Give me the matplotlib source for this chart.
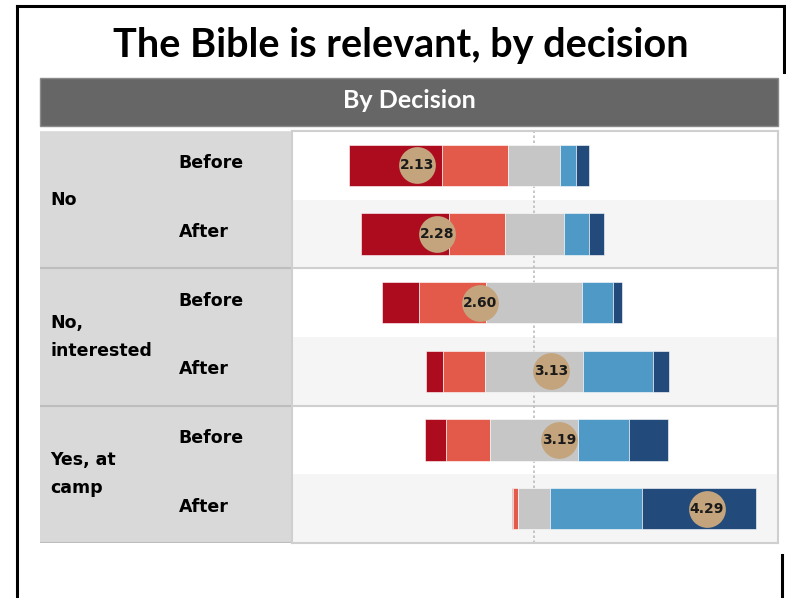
import numpy as np
import matplotlib
matplotlib.use("Agg")
import matplotlib.pyplot as plt
from matplotlib.patches import Rectangle
from matplotlib.lines import Line2D

# --- data ---
groups = ["No", "No,\ninterested", "Yes, at\ncamp"]
phases = ["Before", "After"]
levels = ["Strongly disagree", "Disagree", "Neutral", "Agree", "Strongly agree"]
strongly_disagree = [38.8, 36.4, 15.3, 7.0, 8.4, 0.7]
disagree = [27.3, 22.9, 28.0, 17.4, 18.3, 1.8]
neutral = [21.1, 24.4, 39.4, 40.2, 36.4, 13.5]
agree = [6.9, 10.6, 12.8, 28.9, 21.2, 38.0]
strongly_agree = [5.4, 6.1, 3.8, 6.7, 16.0, 47.1]
means = [2.13, 2.28, 2.60, 3.13, 3.19, 4.29]

colors = ["#ad0c1f", "#e45a4a", "#c6c6c6", "#4f99c6", "#224b7c"]

W, H = 786, 598


def fx(px):
    return px / W


def fy(py):
    return 1 - py / H


def main():
    fig = plt.figure(figsize=(W / 100, H / 100), dpi=100)
    fig.patch.set_facecolor("white")

    # outer black frame (partial, as in the slide)
    for (x0, y0, x1, y1) in [(17, 6, 785, 6), (17, 6, 17, 598),
                             (784, 6, 784, 72), (782, 555, 782, 598)]:
        fig.add_artist(Line2D([fx(x0), fx(x1)], [fy(y0), fy(y1)],
                              color="black", lw=2.2))

    fig.text(fx(401), fy(45), "The Bible is relevant, by decision",
             ha="center", va="center", fontsize=28.5, fontweight="bold",
             family="Lato", color="black")

    # header bar
    fig.add_artist(Rectangle((fx(40), fy(126)), fx(778) - fx(40), fy(78) - fy(126),
                             transform=fig.transFigure, facecolor="#666666",
                             edgecolor="#8a8a8a", lw=1))
    fig.text(fx(409), fy(101), "By Decision", ha="center", va="center",
             fontsize=18, fontweight="bold", family="Lato", color="white")

    top, bottom = 131, 543
    n = len(means)
    y = np.arange(n)

    # --- label panel ---
    lab = fig.add_axes([fx(40), fy(bottom), fx(291) - fx(40), fy(top) - fy(bottom)])
    lab.set_facecolor("#d9d9d9")
    lab.set_xlim(0, 1)
    lab.set_ylim(n - 0.5, -0.5)
    lab.set_xticks([])
    lab.set_yticks([])
    for s in lab.spines.values():
        s.set_visible(False)
    for b in [1.5, 3.5, n - 0.5]:
        lab.axhline(b, color="#bdbdbd", lw=1.5)
    lab.axhline(-0.5, color="#e0e0e0", lw=1.5)
    for gi, g in enumerate(groups):
        lab.text(0.04, 2 * gi + 0.5, g, ha="left", va="center", fontsize=12.5,
                 fontweight="bold", family="DejaVu Sans", linespacing=1.7)
        for pi, p in enumerate(phases):
            lab.text(0.553, 2 * gi + pi - 0.03, p, ha="left", va="center",
                     fontsize=12.5, fontweight="bold", family="DejaVu Sans")

    # --- bars panel ---
    ax = fig.add_axes([fx(292), fy(bottom), fx(778) - fx(292), fy(top) - fy(bottom)])
    ax.set_xlim(-100, 100.8)
    ax.set_ylim(n - 0.5, -0.5)
    ax.set_xticks([])
    ax.set_yticks([])
    for s in ax.spines.values():
        s.set_color("#cfcfcf")
        s.set_linewidth(1.5)
    for i in range(1, n, 2):
        ax.axhspan(i - 0.5, i + 0.5, color="#f5f5f5", lw=0, zorder=0)
    for b in [1.5, 3.5]:
        ax.axhline(b, color="#cfcfcf", lw=1.5, zorder=1)
    ax.axvline(0, color="#bdbdbd", lw=1.2, ls=(0, (1.5, 1.5)), zorder=1)

    series = [strongly_disagree, disagree, neutral, agree, strongly_agree]
    sd, d, ne = (np.array(a) for a in series[:3])
    left = -(sd + d + ne / 2)
    for vals, c, name in zip(series, colors, levels):
        vals = np.array(vals)
        ax.barh(y, vals, left=left, height=0.6, color=c, edgecolor="white",
                lw=0.4, label=name, zorder=2)
        left = left + vals

    # mean markers on a 1-5 scale overlaid on the same area
    mx = ax.twiny()
    mx.set_xlim(1.2, 4.82)
    mx.set_ylim(ax.get_ylim())
    mx.set_xticks([])
    for s in mx.spines.values():
        s.set_visible(False)
    mx.scatter(means, y, s=700, color="#c4a47c", zorder=3, lw=0)
    for m, yi in zip(means, y):
        mx.text(m, yi, f"{m:.2f}", ha="center", va="center", fontsize=10,
                fontweight="bold", family="DejaVu Sans", color="#1a1a1a", zorder=4)

    fig.savefig("out.png", dpi=100)
    plt.close(fig)


if __name__ == "__main__":
    main()
